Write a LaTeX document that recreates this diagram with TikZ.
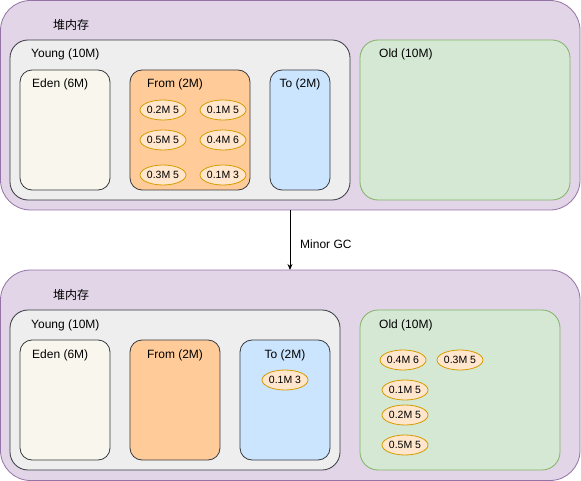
\documentclass[tikz,border=0pt]{standalone}
\usepackage{fontspec}
\setmainfont{Liberation Sans}
\newfontfamily\cjk{Noto Sans CJK SC}
\usetikzlibrary{shapes.geometric,arrows.meta}
\definecolor{heapfill}{HTML}{E1D5E7}
\definecolor{heapline}{HTML}{9673A6}
\definecolor{youngfill}{HTML}{EEEEEE}
\definecolor{darkline}{HTML}{36393D}
\definecolor{edenfill}{HTML}{F9F7ED}
\definecolor{fromfill}{HTML}{FFCC99}
\definecolor{tofill}{HTML}{CCE5FF}
\definecolor{oldfill}{HTML}{D5E8D4}
\definecolor{oldline}{HTML}{82B366}
\definecolor{objfill}{HTML}{FFE6CC}
\definecolor{objline}{HTML}{D79B00}
\tikzset{
  x=1pt,y=-1pt,
  heapbox/.style={draw=heapline,fill=heapfill,rounded corners=30pt,line width=0.8pt},
  youngbox/.style={draw=darkline,fill=youngfill,rounded corners=18pt,line width=0.8pt},
  areabox/.style={draw=darkline,rounded corners=12pt,line width=0.8pt},
  oldbox/.style={draw=oldline,fill=oldfill,rounded corners=18pt,line width=0.8pt},
  lbl/.style={font=\fontsize{12}{14}\selectfont,inner sep=0pt},
  obj/.style={ellipse,draw=objline,fill=objfill,line width=0.8pt,minimum width=46pt,minimum height=20pt,inner sep=0pt,font=\fontsize{10.5}{12}\selectfont},
}
\begin{document}
\begin{tikzpicture}
\useasboundingbox (0,0) rectangle (581,481);
% ---- top ----
\draw[heapbox] (0.5,0.5) rectangle (580,210);
\node[lbl,anchor=west] (h1) at (53,25) {\cjk 堆内存};
\draw[youngbox] (10,40) rectangle (350,200);
\node[lbl,anchor=west] (y1) at (31,54) {Young (10M)};
\draw[areabox,fill=edenfill] (20,70) rectangle (110,190);
\node[lbl,anchor=west] (e1) at (32,84) {Eden (6M)};
\draw[areabox,fill=fromfill] (130,70) rectangle (250,190);
\node[lbl] (f1) at (175,84) {From (2M)};
\node[obj] (a1) at (163,110) {0.2M 5};
\node[obj] (a2) at (223,110) {0.1M 5};
\node[obj] (a3) at (163,140) {0.5M 5};
\node[obj] (a4) at (223,140) {0.4M 6};
\node[obj] (a5) at (163,175) {0.3M 5};
\node[obj] (a6) at (223,175) {0.1M 3};
\draw[areabox,fill=tofill] (270,70) rectangle (330,190);
\node[lbl] (t1) at (300,84) {To (2M)};
\draw[oldbox] (360,40) rectangle (570,200);
\node[lbl,anchor=west] (o1) at (379,54) {Old (10M)};
% ---- arrow ----
\coordinate (s) at (290,210);
\coordinate (d) at (290,270);
\draw[-{Stealth[length=6pt,width=5pt]},line width=0.8pt] (s) -- (d);
\node[lbl,anchor=west] (gc) at (300,244) {Minor GC};
% ---- bottom ----
\draw[heapbox] (0.5,270) rectangle (580,480.5);
\node[lbl,anchor=west] (h2) at (53,295) {\cjk 堆内存};
\draw[youngbox] (10,310) rectangle (340,470);
\node[lbl,anchor=west] (y2) at (31,325) {Young (10M)};
\draw[areabox,fill=edenfill] (20,340) rectangle (110,460);
\node[lbl,anchor=west] (e2) at (32,355) {Eden (6M)};
\draw[areabox,fill=fromfill] (130,340) rectangle (220,460);
\node[lbl] (f2) at (175,355) {From (2M)};
\draw[areabox,fill=tofill] (240,340) rectangle (330,460);
\node[lbl] (t2) at (285,355) {To (2M)};
\node[obj] (b1) at (285,380) {0.1M 3};
\draw[oldbox] (360,310) rectangle (560,470);
\node[lbl,anchor=west] (o2) at (379,325) {Old (10M)};
\node[obj] (c1) at (403,360) {0.4M 6};
\node[obj] (c2) at (460,360) {0.3M 5};
\node[obj] (c3) at (405,390) {0.1M 5};
\node[obj] (c4) at (405,415) {0.2M 5};
\node[obj] (c5) at (405,445) {0.5M 5};
\end{tikzpicture}
\end{document}
